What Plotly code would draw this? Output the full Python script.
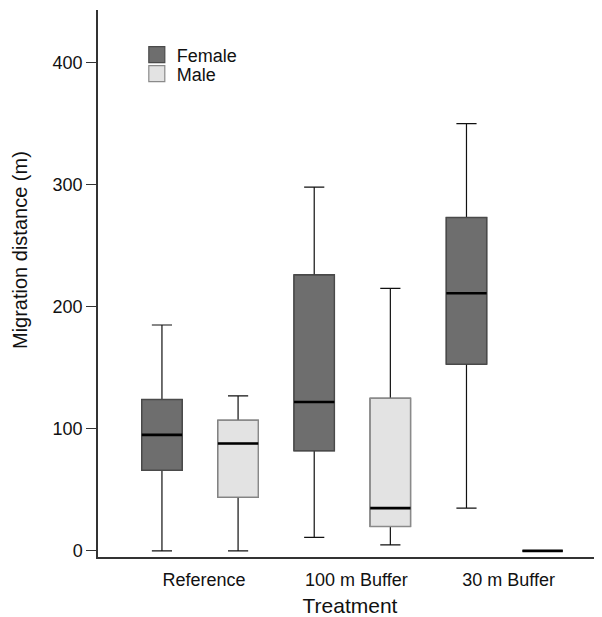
import plotly.graph_objects as go

categories = ["Reference", "100 m Buffer", "30 m Buffer"]

female_low = [0, 11, 35]
female_q1 = [66, 82, 153]
female_med = [95, 122, 211]
female_q3 = [124, 226, 273]
female_high = [185, 298, 350]

male_low = [0, 5, 0]
male_q1 = [44, 20, 0]
male_med = [88, 35, 0]
male_q3 = [107, 125, 0]
male_high = [127, 215, 0]

yticks = [0, 100, 200, 300, 400]

FONT = "Liberation Sans, Arial, sans-serif"
fig = go.Figure()

groups = [
    ("Female", "F", female_low, female_q1, female_med, female_q3, female_high, "#6e6e6e", "#4a4a4a", "legend"),
    ("Male", "M", male_low, male_q1, male_med, male_q3, male_high, "#e3e3e3", "#8a8a8a", "legend2"),
]

for name, og, lo, q1, med, q3, hi, fill, edge, leg in groups:
    # whiskers (black)
    fig.add_trace(go.Box(
        x=categories, lowerfence=lo, q1=q1, median=med, q3=q3, upperfence=hi,
        offsetgroup=og, alignmentgroup="a", name=name, legendgroup=name,
        showlegend=False, fillcolor=fill, line=dict(color="#111111", width=1.2),
        whiskerwidth=0.5, boxpoints=False, hoverinfo="skip"))
    # box body (gray outline)
    fig.add_trace(go.Box(
        x=categories, lowerfence=q1, q1=q1, median=med, q3=q3, upperfence=q3,
        offsetgroup=og, alignmentgroup="a", name=name, legendgroup=name,
        showlegend=False, fillcolor=fill, line=dict(color=edge, width=1.4),
        whiskerwidth=0, boxpoints=False))
    # thick median
    fig.add_trace(go.Box(
        x=categories, lowerfence=med, q1=med, median=med, q3=med, upperfence=med,
        offsetgroup=og, alignmentgroup="a", name=name, legendgroup=name,
        showlegend=False, fillcolor="rgba(0,0,0,0)", line=dict(color="#000000", width=2.6),
        whiskerwidth=0, boxpoints=False, hoverinfo="skip"))
    # legend entry
    fig.add_trace(go.Scatter(
        x=[None], y=[None], mode="markers", name=name, legendgroup=name,
        legend=leg, showlegend=True,
        marker=dict(symbol="square", size=16, color=fill, line=dict(color=edge, width=1.2))))

legend_common = dict(xanchor="left", yanchor="middle", bgcolor="rgba(0,0,0,0)",
                     font=dict(size=18), borderwidth=0, itemwidth=30)

fig.update_layout(
    width=594, height=609,
    margin=dict(l=90, r=0, t=2, b=60),
    paper_bgcolor="white", plot_bgcolor="white",
    boxmode="group", boxgap=0.0, boxgroupgap=0.47,
    font=dict(family=FONT, size=18, color="#111111"),
    legend=dict(x=0.077, y=0.918, **legend_common),
    legend2=dict(x=0.077, y=0.883, **legend_common),
    xaxis=dict(
        title=dict(text="Treatment", font=dict(size=21), standoff=9),
        showline=True, linecolor="#333333", linewidth=1.5,
        ticks="", showgrid=False, zeroline=False, automargin=False,
        range=[-0.67, 2.64], tickfont=dict(size=18), ticklabelstandoff=6,
        ticklabelshift=4,
    ),
    yaxis=dict(
        range=[-5, 443], tickvals=yticks, ticktext=[str(v) for v in yticks],
        showline=True, linecolor="#333333", linewidth=1.5, automargin=False,
        ticks="outside", ticklen=10, tickcolor="#333333", tickwidth=1.2,
        showgrid=False, zeroline=False, tickfont=dict(size=18),
    ),
    annotations=[dict(
        text="Migration distance (m)", textangle=-90, xref="paper", yref="paper",
        x=-0.155, y=0.561, xanchor="center", yanchor="middle", showarrow=False,
        font=dict(size=20, family=FONT, color="#111111"))],
)

fig.write_html("out.html")
